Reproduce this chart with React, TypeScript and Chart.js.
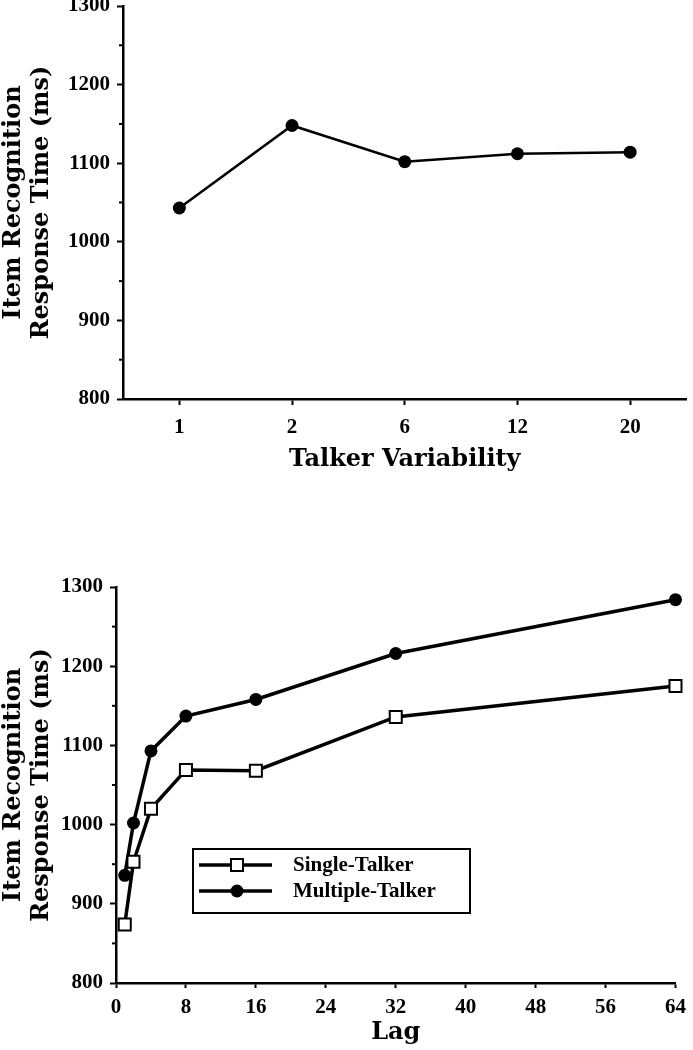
import React, { useEffect, useRef } from 'react';
import { Chart, registerables } from 'chart.js';

Chart.register(...registerables);

// ---------- data ----------
const talkerCategories = ['1', '2', '6', '12', '20'];
const talkerRT = [1043, 1148, 1102, 1112, 1114];

const lags = [1, 2, 4, 8, 16, 32, 64];
const singleTalkerRT = [874, 953, 1020, 1069, 1068, 1136, 1175];
const multipleTalkerRT = [936, 1002, 1093, 1137, 1158, 1216, 1284];

const seriesNames = ['Single-Talker', 'Multiple-Talker'];
const yAxisTitle = ['Item Recognition', 'Response Time (ms)'];
const topXTitle = 'Talker Variability';
const bottomXTitle = 'Lag';

const yMin = 800;
const yMax = 1300;
const yStep = 100;
const yMinorStep = 50;
const lagMin = 0;
const lagMax = 64;
const lagStep = 8;

// ---------- styles ----------
const TICK_FONT = { family: '"Liberation Serif", "Times New Roman", serif', size: 21, weight: 'bold' as const };
const TITLE_FONT = { family: '"DejaVu Serif", serif', size: 24, weight: 'bold' as const, lineHeight: 1.15 };
const LEGEND_FONT = 'bold 21px "Liberation Serif", "Times New Roman", serif';

const plainNumber = (v: any) => String(v);

const minorTicksPlugin = {
  id: 'minorTicks',
  afterDraw(chart: any) {
    const s = chart.scales.y;
    const ctx = chart.ctx;
    ctx.save();
    ctx.strokeStyle = '#000';
    ctx.lineWidth = 2;
    for (let v = s.min + yMinorStep; v < s.max; v += yStep) {
      const y = s.getPixelForValue(v);
      ctx.beginPath();
      ctx.moveTo(s.right - 4, y);
      ctx.lineTo(s.right, y);
      ctx.stroke();
    }
    ctx.restore();
  },
};

const boxLegendPlugin = {
  id: 'boxLegend',
  afterDraw(chart: any) {
    const ctx = chart.ctx;
    const { left, top } = chart.chartArea;
    const bx = left + 77;
    const by = top + 262;
    const bw = 277;
    const bh = 64;
    ctx.save();
    ctx.strokeStyle = '#000';
    ctx.lineWidth = 2;
    ctx.strokeRect(bx, by, bw, bh);
    chart.data.datasets.forEach((ds: any, i: number) => {
      const cy = by + 16 + i * 26;
      ctx.strokeStyle = '#000';
      ctx.lineWidth = 3.5;
      ctx.beginPath();
      ctx.moveTo(bx + 6, cy);
      ctx.lineTo(bx + 79, cy);
      ctx.stroke();
      const mx = bx + 44;
      if (ds.pointStyle === 'rect') {
        ctx.fillStyle = '#fff';
        ctx.lineWidth = 2;
        ctx.fillRect(mx - 6, cy - 6, 12, 12);
        ctx.strokeRect(mx - 6, cy - 6, 12, 12);
      } else {
        ctx.fillStyle = '#000';
        ctx.beginPath();
        ctx.arc(mx, cy, 6.5, 0, Math.PI * 2);
        ctx.fill();
      }
      ctx.fillStyle = '#000';
      ctx.font = LEGEND_FONT;
      ctx.textAlign = 'left';
      ctx.textBaseline = 'middle';
      ctx.fillText(ds.label, bx + 100, cy + 1);
    });
    ctx.restore();
  },
};

function yAxis(width: number) {
  return {
    type: 'linear' as const,
    min: yMin,
    max: yMax,
    ticks: { stepSize: yStep, font: TICK_FONT, color: '#000', padding: 7, callback: plainNumber },
    grid: { display: true, drawOnChartArea: false, drawTicks: true, tickLength: 6, tickWidth: 2, tickColor: '#000', color: '#000' },
    border: { display: true, color: '#000', width: 2.5 },
    title: { display: true, text: yAxisTitle, font: TITLE_FONT, color: '#000', padding: { top: 0, bottom: 0 } },
    afterFit(s: any) {
      s.width = width;
    },
  };
}

export default function App() {
  const topRef = useRef<HTMLCanvasElement>(null);
  const botRef = useRef<HTMLCanvasElement>(null);

  useEffect(() => {
    Chart.defaults.color = '#000';
    const top = new Chart(topRef.current as HTMLCanvasElement, {
      type: 'line',
      data: {
        labels: talkerCategories,
        datasets: [
          {
            label: 'Talker Variability',
            data: talkerRT,
            borderColor: '#000',
            backgroundColor: '#000',
            borderWidth: 2.5,
            pointRadius: 6.5,
            pointBackgroundColor: '#000',
            pointBorderWidth: 0,
            clip: false as any,
          },
        ],
      },
      options: {
        animation: false,
        responsive: false,
        devicePixelRatio: 1,
        layout: { padding: { top: 26, right: 4, bottom: 0, left: 0 } },
        plugins: { legend: { display: false }, tooltip: { enabled: false } },
        scales: {
          x: {
            type: 'category',
            offset: true,
            ticks: { font: TICK_FONT, color: '#000', padding: 10 },
            grid: { display: true, offset: false, drawOnChartArea: false, drawTicks: true, tickLength: 6, tickWidth: 2, tickColor: '#000', color: '#000' },
            border: { display: true, color: '#000', width: 2.5 },
            title: { display: true, text: topXTitle, font: TITLE_FONT, color: '#000', padding: { top: 0, bottom: 6 } },
            afterFit(s: any) {
              s.height = 81;
            },
          },
          y: yAxis(123),
        },
      },
      plugins: [minorTicksPlugin],
    });

    const bottom = new Chart(botRef.current as HTMLCanvasElement, {
      type: 'line',
      data: {
        datasets: [
          {
            label: seriesNames[0],
            data: lags.map((x, i) => ({ x, y: singleTalkerRT[i] })),
            borderColor: '#000',
            borderWidth: 3.5,
            pointStyle: 'rect',
            pointRadius: 8.5,
            pointBackgroundColor: '#fff',
            pointBorderColor: '#000',
            pointBorderWidth: 2,
            clip: false as any,
          },
          {
            label: seriesNames[1],
            data: lags.map((x, i) => ({ x, y: multipleTalkerRT[i] })),
            borderColor: '#000',
            borderWidth: 3.5,
            pointStyle: 'circle',
            pointRadius: 6.5,
            pointBackgroundColor: '#000',
            pointBorderWidth: 0,
            clip: false as any,
          },
        ],
      },
      options: {
        animation: false,
        responsive: false,
        devicePixelRatio: 1,
        layout: { padding: { top: 107, right: 11, bottom: 0, left: 0 } },
        plugins: { legend: { display: false }, tooltip: { enabled: false } },
        scales: {
          x: {
            type: 'linear',
            min: lagMin,
            max: lagMax,
            ticks: { stepSize: lagStep, font: TICK_FONT, color: '#000', padding: 7, callback: plainNumber },
            grid: { display: true, drawOnChartArea: false, drawTicks: true, tickLength: 5, tickWidth: 2, tickColor: '#000', color: '#000' },
            border: { display: true, color: '#000', width: 2.5 },
            title: { display: true, text: bottomXTitle, font: TITLE_FONT, color: '#000', padding: { top: 0, bottom: 3 } },
            afterFit(s: any) {
              s.height = 67;
            },
          },
          y: yAxis(116),
        },
      },
      plugins: [minorTicksPlugin, boxLegendPlugin],
    });

    return () => {
      top.destroy();
      bottom.destroy();
    };
  }, []);

  return (
    <div style={{ position: 'absolute', left: 0, top: 0, width: 693, height: 1050, overflow: 'hidden', background: '#fff' }}>
      <canvas ref={topRef} width={693} height={500} style={{ position: 'absolute', left: 0, top: -20, width: 693, height: 500 }} />
      <canvas ref={botRef} width={693} height={570} style={{ position: 'absolute', left: 0, top: 480, width: 693, height: 570 }} />
    </div>
  );
}
